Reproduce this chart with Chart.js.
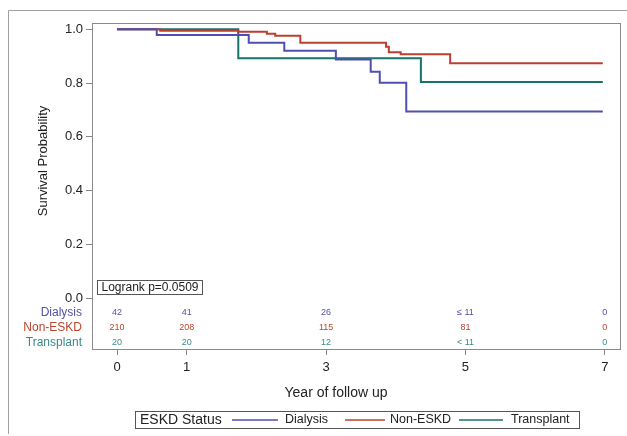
<!DOCTYPE html>
<html>
<head>
<meta charset="utf-8">
<script src="https://cdn.jsdelivr.net/npm/chart.js@4.4.1/dist/chart.umd.min.js"></script>
<style>
  body { margin: 0; background: #fff; }
</style>
</head>
<body>
<canvas id="kmChart" width="627" height="436"></canvas>
<script>
// Kaplan-Meier steps (year, survival after the drop)
const dialysisTimes = [0, 0.57, 1.89, 2.40, 3.14, 3.64, 3.77, 4.15, 6.97];
const dialysisSurv  = [1.0, 0.979, 0.950, 0.920, 0.888, 0.842, 0.801, 0.694, 0.694];
const nonEskdTimes  = [0, 0.62, 1.74, 2.15, 2.27, 2.63, 3.86, 3.90, 4.07, 4.78, 6.97];
const nonEskdSurv   = [1.0, 0.995, 0.991, 0.983, 0.976, 0.950, 0.935, 0.915, 0.907, 0.874, 0.874];
const transTimes    = [0, 1.74, 4.36, 6.97];
const transSurv     = [1.0, 0.892, 0.804, 0.804];

const groupNames  = ["Dialysis", "Non-ESKD", "Transplant"];
const lineColors  = ["#4f4fb3", "#bd3f2f", "#17746a"];
const labelColors = ["#5252a6", "#b8452f", "#3b8a8c"];

// numbers at risk
const riskYears = [0, 1, 3, 5, 7];
const riskDialysis = ["42", "41", "26", "\u2264 11", "0"];
const riskNonEskd  = ["210", "208", "115", "81", "0"];
const riskTrans    = ["20", "20", "12", "< 11", "0"];

const xTicks = [0, 1, 3, 5, 7];
const yTicks = [0, 0.2, 0.4, 0.6, 0.8, 1.0];
const pValueText = "Logrank p=0.0509";

const FONT = "'Liberation Sans', Arial, sans-serif";

function pts(t, s) {
  return t.map((v, i) => ({ x: v, y: s[i] }));
}

const extras = {
  id: "extras",
  beforeDraw(chart) {
    const ctx = chart.ctx;
    ctx.save();
    ctx.fillStyle = "#fff";
    ctx.fillRect(0, 0, chart.width, chart.height);
    // outer frame
    ctx.strokeStyle = "#a0a0a0";
    ctx.lineWidth = 1;
    ctx.beginPath();
    ctx.moveTo(8.5, 434);
    ctx.lineTo(8.5, 10.5);
    ctx.lineTo(627, 10.5);
    ctx.stroke();
    ctx.restore();
  },
  afterDraw(chart) {
    const ctx = chart.ctx;
    const a = chart.chartArea;
    const xs = chart.scales.x;
    const ys = chart.scales.y;
    ctx.save();

    // plot frame
    ctx.strokeStyle = "#8a8a8a";
    ctx.lineWidth = 1;
    ctx.strokeRect(a.left + 0.5, a.top + 0.5, a.right - a.left, a.bottom - a.top);

    // logrank box
    ctx.strokeStyle = "#555";
    ctx.strokeRect(97.5, 280.5, 105, 14);
    ctx.fillStyle = "#222";
    ctx.font = "12px " + FONT;
    ctx.textAlign = "center";
    ctx.textBaseline = "middle";
    ctx.fillText(pValueText, 150, 288);

    // at-risk table
    const rows = [riskDialysis, riskNonEskd, riskTrans];
    const rowY = [a.bottom - 36, a.bottom - 21, a.bottom - 6];
    rows.forEach((row, r) => {
      ctx.fillStyle = labelColors[r];
      ctx.font = "9px " + FONT;
      ctx.textAlign = "center";
      row.forEach((txt, i) => {
        ctx.fillText(txt, xs.getPixelForValue(riskYears[i]), rowY[r]);
      });
      ctx.font = "12px " + FONT;
      ctx.textAlign = "right";
      ctx.fillText(groupNames[r], a.left - 10, rowY[r]);
    });

    // axis titles
    ctx.fillStyle = "#222";
    ctx.font = "14px " + FONT;
    ctx.textAlign = "center";
    ctx.fillText("Year of follow up", 336, 393);
    ctx.save();
    ctx.font = "13px " + FONT;
    ctx.translate(43, 161);
    ctx.rotate(-Math.PI / 2);
    ctx.fillText("Survival Probability", 0, 0);
    ctx.restore();

    // legend
    ctx.strokeStyle = "#555";
    ctx.lineWidth = 1;
    ctx.strokeRect(135.5, 411.5, 444, 17);
    ctx.font = "14px " + FONT;
    ctx.textAlign = "left";
    ctx.fillStyle = "#222";
    ctx.fillText("ESKD Status", 140, 420);
    const legLine = [[232, 278], [345, 385], [459, 503]];
    const legText = [285, 390, 511];
    ctx.font = "12.5px " + FONT;
    groupNames.forEach((name, i) => {
      ctx.strokeStyle = lineColors[i];
      ctx.lineWidth = 1.5;
      ctx.beginPath();
      ctx.moveTo(legLine[i][0], 420);
      ctx.lineTo(legLine[i][1], 420);
      ctx.stroke();
      ctx.fillStyle = "#222";
      ctx.fillText(name, legText[i], 420);
    });
    ctx.restore();
  }
};

new Chart(document.getElementById("kmChart"), {
  type: "line",
  data: {
    datasets: [
      { label: groupNames[0], data: pts(dialysisTimes, dialysisSurv), borderColor: lineColors[0] },
      { label: groupNames[1], data: pts(nonEskdTimes, nonEskdSurv), borderColor: lineColors[1] },
      { label: groupNames[2], data: pts(transTimes, transSurv), borderColor: lineColors[2] },
    ].map(d => Object.assign(d, { stepped: true, pointRadius: 0, borderWidth: 2, fill: false })),
  },
  options: {
    responsive: false,
    animation: false,
    layout: { padding: { left: 52, top: 23, right: 7, bottom: 57 } },
    plugins: { legend: { display: false }, tooltip: { enabled: false } },
    scales: {
      x: {
        type: "linear",
        min: -0.359,
        max: 7.217,
        afterBuildTicks: s => { s.ticks = xTicks.map(v => ({ value: v })); },
        afterFit: s => { s.height = 30; },
        grid: { drawOnChartArea: false, tickLength: 6, color: "#888" },
        border: { display: false },
        ticks: { font: { family: FONT, size: 13 }, color: "#222", padding: 5, maxRotation: 0 },
      },
      y: {
        min: -0.1885,
        max: 1.0234,
        afterBuildTicks: s => { s.ticks = yTicks.map(v => ({ value: v })); },
        afterFit: s => { s.width = 40; },
        grid: { drawOnChartArea: false, tickLength: 6, color: "#888" },
        border: { display: false },
        ticks: {
          font: { family: FONT, size: 13 }, color: "#222", padding: 3,
          callback: v => Number(v).toFixed(1),
        },
      },
    },
  },
  plugins: [extras],
});
</script>
</body>
</html>
